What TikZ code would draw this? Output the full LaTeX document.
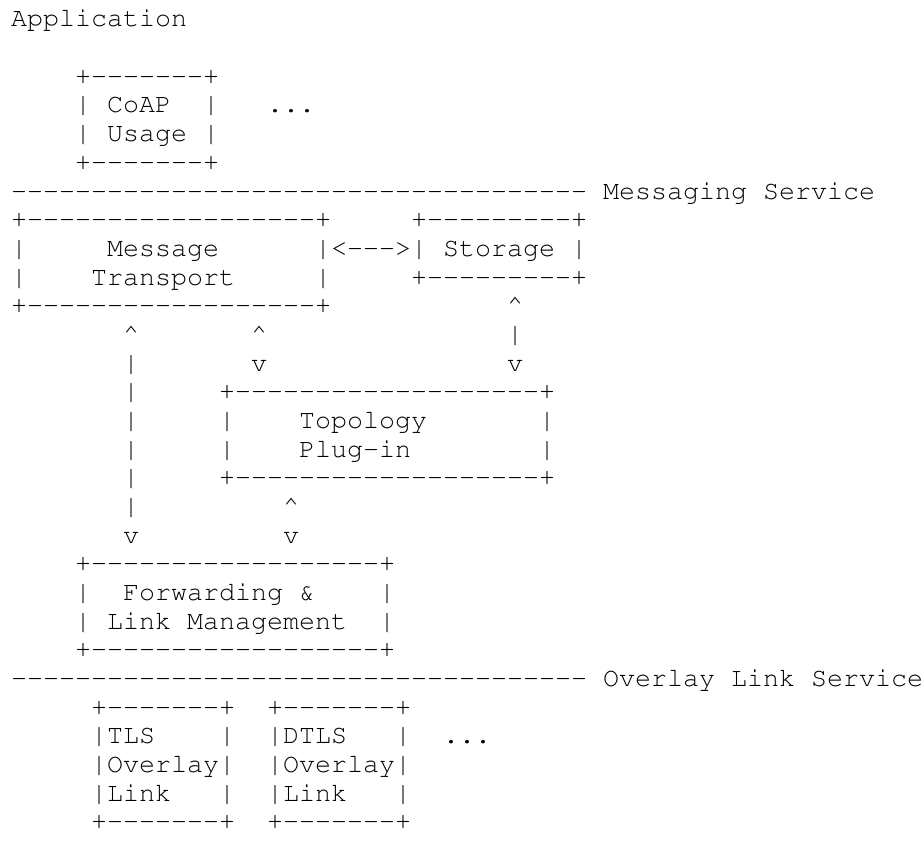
\documentclass[tikz,border=0pt]{standalone}
\usepackage[T1]{fontenc}
\tikzset{asc/.style={anchor=base west,inner sep=0pt,outer sep=0pt,font=\fontencoding{T1}\fontfamily{pcr}\fontseries{m}\fontshape{n}\fontsize{26.67pt}{28.67pt}\selectfont,text=black}}
\newcommand\tx[4]{\node[asc] (#1) at ({11pt+#3*16pt},{-113pt-(#2-4)*28.67pt}) {#4};}
\newcommand\up{\textasciicircum}
\newcommand\dd{-{}}
\begin{document}
\begin{tikzpicture}
\useasboundingbox[fill=white] (0,0) rectangle (922pt,-848pt);
% Application layer
\tx{app}{1}{0}{Application}
\tx{coapT}{3}{4}{+\dd\dd\dd\dd\dd\dd\dd+}
\tx{coapL}{4}{4}{|}
\tx{coap}{4}{6}{CoAP}
\tx{coapR}{4}{12}{|}
\tx{dotsA}{4}{16}{...}
\tx{usageL}{5}{4}{|}
\tx{usage}{5}{6}{Usage}
\tx{usageR}{5}{12}{|}
\tx{coapB}{6}{4}{+\dd\dd\dd\dd\dd\dd\dd+}
% Messaging service
\tx{msgline}{7}{0}{\dd\dd\dd\dd\dd\dd\dd\dd\dd\dd\dd\dd\dd\dd\dd\dd\dd\dd\dd\dd\dd\dd\dd\dd\dd\dd\dd\dd\dd\dd\dd\dd\dd\dd\dd\dd}
\tx{msgsvc}{7}{37}{Messaging Service}
\tx{mtT}{8}{0}{+\dd\dd\dd\dd\dd\dd\dd\dd\dd\dd\dd\dd\dd\dd\dd\dd\dd\dd+}
\tx{stT}{8}{25}{+\dd\dd\dd\dd\dd\dd\dd\dd\dd+}
\tx{mtL1}{9}{0}{|}
\tx{mt1}{9}{6}{Message}
\tx{mtst}{9}{19}{|<\dd\dd\dd>|}
\tx{st}{9}{27}{Storage}
\tx{stR}{9}{35}{|}
\tx{mtL2}{10}{0}{|}
\tx{mt2}{10}{5}{Transport}
\tx{mtR2}{10}{19}{|}
\tx{stB}{10}{25}{+\dd\dd\dd\dd\dd\dd\dd\dd\dd+}
\tx{mtB}{11}{0}{+\dd\dd\dd\dd\dd\dd\dd\dd\dd\dd\dd\dd\dd\dd\dd\dd\dd\dd+}
\tx{stUp}{11}{31}{\up}
\tx{aUp1}{12}{7}{\up}
\tx{aUp2}{12}{15}{\up}
\tx{stV1}{12}{31}{|}
\tx{aV1}{13}{7}{|}
\tx{aDn2}{13}{15}{v}
\tx{stDn}{13}{31}{v}
\tx{aV2}{14}{7}{|}
\tx{tpT}{14}{13}{+\dd\dd\dd\dd\dd\dd\dd\dd\dd\dd\dd\dd\dd\dd\dd\dd\dd\dd\dd+}
\tx{aV3}{15}{7}{|}
\tx{tpL1}{15}{13}{|}
\tx{tp1}{15}{18}{Topology}
\tx{tpR1}{15}{33}{|}
\tx{aV4}{16}{7}{|}
\tx{tpL2}{16}{13}{|}
\tx{tp2}{16}{18}{Plug\dd in}
\tx{tpR2}{16}{33}{|}
\tx{aV5}{17}{7}{|}
\tx{tpB}{17}{13}{+\dd\dd\dd\dd\dd\dd\dd\dd\dd\dd\dd\dd\dd\dd\dd\dd\dd\dd\dd+}
\tx{aV6}{18}{7}{|}
\tx{bUp}{18}{17}{\up}
\tx{aDn1}{19}{7}{v}
\tx{bDn}{19}{17}{v}
\tx{fwT}{20}{4}{+\dd\dd\dd\dd\dd\dd\dd\dd\dd\dd\dd\dd\dd\dd\dd\dd\dd\dd+}
\tx{fwL1}{21}{4}{|}
\tx{fw1}{21}{7}{Forwarding \&}
\tx{fwR1}{21}{23}{|}
\tx{fwL2}{22}{4}{|}
\tx{fw2}{22}{6}{Link Management}
\tx{fwR2}{22}{23}{|}
\tx{fwB}{23}{4}{+\dd\dd\dd\dd\dd\dd\dd\dd\dd\dd\dd\dd\dd\dd\dd\dd\dd\dd+}
% Overlay link service
\tx{olline}{24}{0}{\dd\dd\dd\dd\dd\dd\dd\dd\dd\dd\dd\dd\dd\dd\dd\dd\dd\dd\dd\dd\dd\dd\dd\dd\dd\dd\dd\dd\dd\dd\dd\dd\dd\dd\dd\dd}
\tx{olsvc}{24}{37}{Overlay Link Service}
\tx{tlsT}{25}{5}{+\dd\dd\dd\dd\dd\dd\dd+}
\tx{dtlsT}{25}{16}{+\dd\dd\dd\dd\dd\dd\dd+}
\tx{tls1}{26}{5}{|TLS}
\tx{tlsR1}{26}{13}{|}
\tx{dtls1}{26}{16}{|DTLS}
\tx{dtlsR1}{26}{24}{|}
\tx{dotsB}{26}{27}{...}
\tx{tls2}{27}{5}{|Overlay|}
\tx{dtls2}{27}{16}{|Overlay|}
\tx{tls3}{28}{5}{|Link}
\tx{tlsR3}{28}{13}{|}
\tx{dtls3}{28}{16}{|Link}
\tx{dtlsR3}{28}{24}{|}
\tx{tlsB}{29}{5}{+\dd\dd\dd\dd\dd\dd\dd+}
\tx{dtlsB}{29}{16}{+\dd\dd\dd\dd\dd\dd\dd+}
\end{tikzpicture}
\end{document}
